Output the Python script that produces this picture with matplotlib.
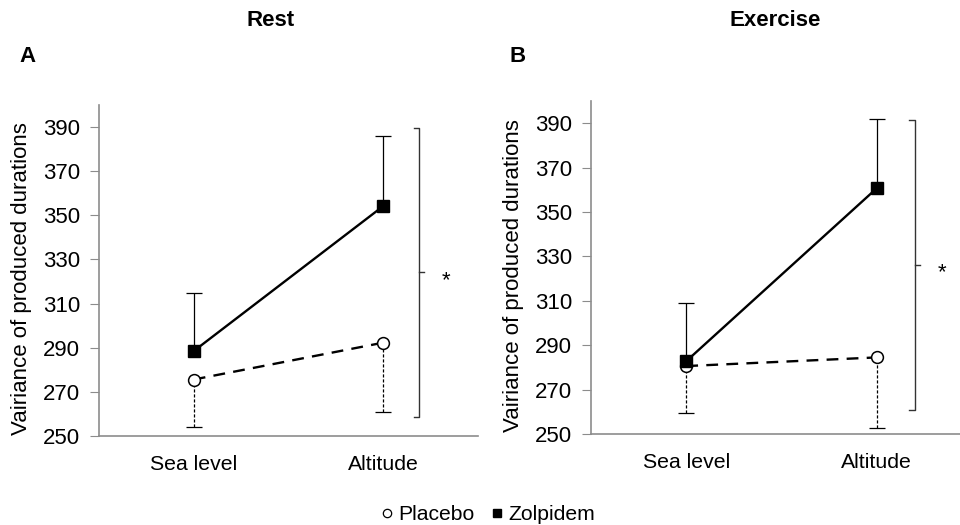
import matplotlib.pyplot as plt
from matplotlib.lines import Line2D

plt.rcParams['font.family'] = ['Liberation Sans', 'DejaVu Sans']

# Data
conditions = ['Sea level', 'Altitude']
panels = ['Rest', 'Exercise']
letters = ['A', 'B']

placebo_rest = [275.6, 292.3]
placebo_rest_err = [21.4, 31.6]
zolpidem_rest = [288.5, 354.2]
zolpidem_rest_err = [26.2, 31.7]

placebo_ex = [280.6, 284.5]
placebo_ex_err = [21.3, 31.7]
zolpidem_ex = [282.8, 360.7]
zolpidem_ex_err = [26.3, 31.4]

# significance bracket (low, high) per panel
bracket_rest = (258.4, 389.8)
bracket_ex = (260.8, 391.3)

yticks = [250, 270, 290, 310, 330, 350, 370, 390]

GREY = '#8c8c8c'
W, H = 960, 525


def draw_panel(ax, placebo, placebo_err, zolp, zolp_err, bracket, bx, ylab_x):
    x = [0.5, 1.5]
    # placebo: dashed line, lower error only
    eb = ax.errorbar(x, placebo, yerr=[placebo_err, [0, 0]], fmt='none',
                     ecolor='black', elinewidth=0.9, capsize=6, capthick=0.9,
                     zorder=2)
    eb.lines[1][1].set_visible(False)
    for c in eb.lines[2]:
        c.set_linestyle((0, (2.5, 1.5)))
    ax.plot(x, placebo, color='black', lw=1.7, dashes=(5, 3.5), marker='o',
            ms=8.5, mfc='white', mec='black', mew=1.1, zorder=3)
    # zolpidem: solid line, upper error only
    eb = ax.errorbar(x, zolp, yerr=[[0, 0], zolp_err], fmt='none',
                     ecolor='black', elinewidth=0.9, capsize=6, capthick=0.9,
                     zorder=4)
    eb.lines[1][0].set_visible(False)
    ax.plot(x, zolp, color='black', lw=1.7, marker='s', ms=8.5,
            mfc='black', mec='black', zorder=5)

    ax.set_xlim(0, 2)
    ax.set_ylim(250, 400)
    ax.set_yticks(yticks)
    ax.set_xticks(x)
    ax.set_xticklabels(conditions)
    ax.tick_params(axis='x', length=0, labelsize=15.3, pad=14)
    ax.tick_params(axis='y', length=6.5, color=GREY, labelsize=16, pad=7)
    for side in ['top', 'right']:
        ax.spines[side].set_visible(False)
    for side in ['left', 'bottom']:
        ax.spines[side].set_color(GREY)
        ax.spines[side].set_linewidth(1.2)
    ax.set_ylabel('Vairiance of produced durations', fontsize=16)
    ax.yaxis.set_label_coords(ylab_x, 0.477)

    # significance bracket
    lo, hi = bracket
    mid = (lo + hi) / 2
    ax.plot([bx - 0.03, bx, bx, bx - 0.03], [hi, hi, lo, lo],
            color='#333333', lw=1.0, clip_on=False)
    ax.plot([bx, bx + 0.025], [mid, mid], color='#333333', lw=1.0,
            clip_on=False)
    ax.text(bx + 0.14, mid - 3.5, '*', fontsize=16, ha='center', va='center')


fig = plt.figure(figsize=(9.6, 5.25), dpi=100)
ax1 = fig.add_axes([99 / W, 1 - 436 / H, 379 / W, 331 / H])
ax2 = fig.add_axes([591 / W, 1 - 434 / H, 381 / W, 333 / H])

draw_panel(ax1, placebo_rest, placebo_rest_err, zolpidem_rest,
           zolpidem_rest_err, bracket_rest, 1.691, (32 - 99) / 379)
draw_panel(ax2, placebo_ex, placebo_ex_err, zolpidem_ex,
           zolpidem_ex_err, bracket_ex, 1.70, (524 - 591) / 381)

for i, (title, letter) in enumerate(zip(panels, letters)):
    cx = [271, 775][i]
    lx = [27, 518][i]
    fig.text(cx / W, 1 - 21 / H, title, fontsize=16, fontweight='bold',
             ha='center', va='center')
    fig.text(lx / W, 1 - 56 / H, letter, fontsize=16, fontweight='bold',
             ha='center', va='center')

handles = [
    Line2D([], [], linestyle='none', marker='o', ms=6, mfc='white',
           mec='black', mew=0.9),
    Line2D([], [], linestyle='none', marker='s', ms=5.5, mfc='black',
           mec='black'),
]
fig.legend(handles, ['Placebo', 'Zolpidem'], loc='center',
           bbox_to_anchor=(487 / W, 1 - 515 / H), ncol=2, frameon=False,
           fontsize=15.2, handletextpad=0.2, columnspacing=0.7,
           handlelength=0.7, borderpad=0, borderaxespad=0)

fig.savefig('out.png', dpi=100)
